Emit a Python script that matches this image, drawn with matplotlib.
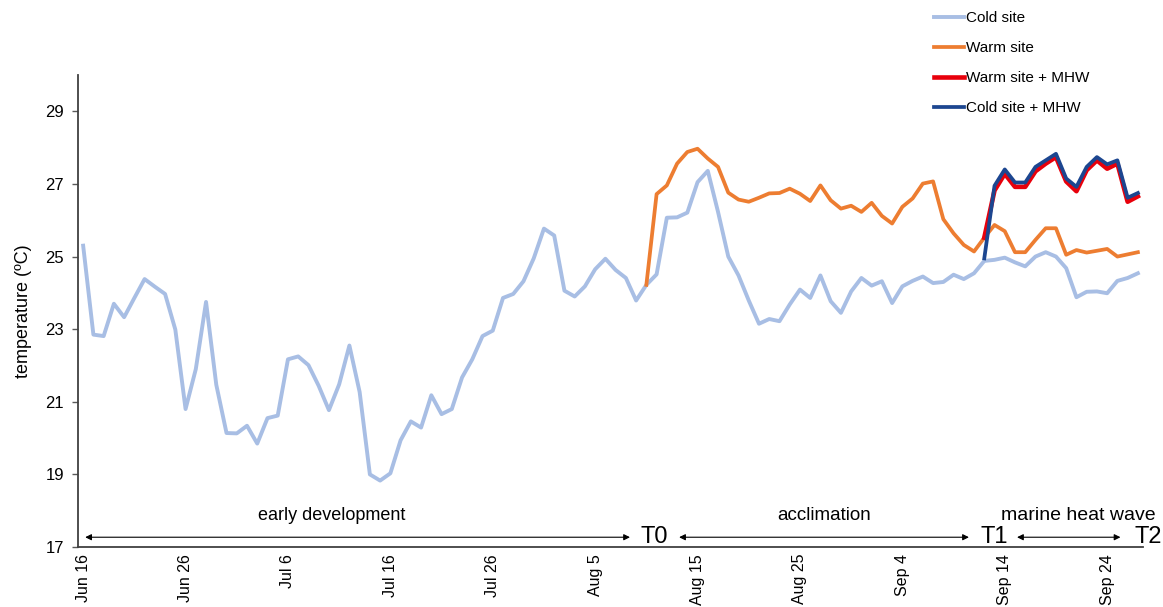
import numpy as np
import matplotlib
matplotlib.use("Agg")
import matplotlib.pyplot as plt

plt.rcParams["font.family"] = ["Liberation Sans", "DejaVu Sans"]

# -----------------------------------------------------------------------------
# DATA  (daily temperature, day 0 = Jun 16)
# -----------------------------------------------------------------------------

cold_site = [
    25.30, 22.85, 22.81, 23.70, 23.33, 23.86, 24.38, 24.17, 23.97, 22.99,
    20.80, 21.90, 23.75, 21.47, 20.14, 20.13, 20.34, 19.85, 20.55, 20.62,
    22.17, 22.25, 22.01, 21.44, 20.77, 21.48, 22.55, 21.27, 19.00, 18.83,
    19.03, 19.94, 20.46, 20.29, 21.18, 20.66, 20.80, 21.67, 22.17, 22.81,
    22.96, 23.86, 23.97, 24.32, 24.95, 25.77, 25.58, 24.06, 23.90, 24.18,
    24.65, 24.94, 24.63, 24.41, 23.79, 24.22, 24.51, 26.07, 26.08, 26.21,
    27.05, 27.36, 26.23, 25.00, 24.48, 23.79, 23.15, 23.28, 23.22, 23.68,
    24.09, 23.86, 24.48, 23.77, 23.45, 24.04, 24.41, 24.20, 24.32, 23.72,
    24.18, 24.33, 24.45, 24.27, 24.30, 24.50, 24.38, 24.54, 24.88, 24.91,
    24.97, 24.84, 24.73, 25.00, 25.12, 25.00, 24.68, 23.88, 24.03, 24.04,
    23.99, 24.33, 24.41, 24.54,
]

warm_start = 55
warm_site = [
    24.22, 26.72, 26.96, 27.56, 27.88, 27.97, 27.70, 27.47, 26.76, 26.57,
    26.51, 26.62, 26.74, 26.75, 26.87, 26.73, 26.53, 26.96, 26.55, 26.32,
    26.40, 26.23, 26.48, 26.12, 25.91, 26.37, 26.60, 27.01, 27.07, 26.03,
    25.64, 25.32, 25.14, 25.52, 25.87, 25.70, 25.12, 25.12, 25.46, 25.78,
    25.78, 25.05, 25.18, 25.11, 25.16, 25.21, 25.00, 25.06, 25.12,
]

mhw_start = 88
warm_mhw = [25.52, 26.82, 27.28, 26.92, 26.92, 27.35, 27.56, 27.74,
            27.07, 26.80, 27.38, 27.65, 27.42, 27.56, 26.51, 26.66]
cold_mhw = [24.95, 26.95, 27.40, 27.04, 27.04, 27.47, 27.65, 27.83,
            27.15, 26.92, 27.47, 27.74, 27.54, 27.65, 26.62, 26.75]

tick_days = [0, 10, 20, 30, 40, 50, 60, 70, 80, 90, 100]
tick_labels = ["Jun 16", "Jun 26", "Jul 6", "Jul 16", "Jul 26", "Aug 5",
               "Aug 15", "Aug 25", "Sep 4", "Sep 14", "Sep 24"]

# -----------------------------------------------------------------------------
# PLOT
# -----------------------------------------------------------------------------

fig = plt.figure(figsize=(11.63, 6.07), dpi=100)
ax = fig.add_axes([0.0671, 0.0988, 0.9157, 0.7776])

days = np.arange(len(cold_site))
warm_days = np.arange(warm_start, warm_start + len(warm_site))
mhw_days = np.arange(mhw_start, mhw_start + len(warm_mhw))

ax.plot(days, cold_site, color="#A8BEE4", lw=2.8, label="Cold site")
ax.plot(warm_days, warm_site, color="#ED7D31", lw=2.7, label="Warm site")
ax.plot(mhw_days, warm_mhw, color="#E8000B", lw=3.3, label="Warm site + MHW")
ax.plot(mhw_days, cold_mhw, color="#1C4690", lw=2.7, label="Cold site + MHW")

ax.set_xlim(-0.5, 103.5)
ax.set_ylim(17, 30)
ax.set_yticks(np.arange(17, 30, 2))
ax.set_xticks(tick_days)
ax.set_xticklabels(tick_labels, rotation=90, fontsize=11.5)
ax.tick_params(axis="x", length=0, pad=5)
ax.tick_params(axis="y", length=4, width=1, color="#595959", labelsize=12, pad=6)
ax.set_ylabel("temperature (ºC)", fontsize=13, labelpad=10)

for s in ["top", "right"]:
    ax.spines[s].set_visible(False)
for s in ["left", "bottom"]:
    ax.spines[s].set_color("#404040")
    ax.spines[s].set_linewidth(1.3)

# --- phase annotations ---
arrow_y = 17.27
text_y = 17.88
arrow_kw = dict(arrowstyle="<|-|>", color="black", lw=0.8,
                mutation_scale=9, shrinkA=0, shrinkB=0)
for x0, x1 in [(0.2, 53.4), (58.2, 86.5), (91.2, 101.3)]:
    ax.annotate("", xy=(x0, arrow_y), xytext=(x1, arrow_y),
                arrowprops=arrow_kw, annotation_clip=False)

ax.text(24.3, text_y, "early development", ha="center", va="center", fontsize=13)
ax.text(72.4, text_y, "acclimation", ha="center", va="center", fontsize=13.5)
ax.text(97.2, text_y, "marine heat wave", ha="center", va="center", fontsize=14,
        clip_on=False)
for x, lab in [(55.8, "T0"), (89.0, "T1"), (104.0, "T2")]:
    ax.text(x, arrow_y, lab, ha="center", va="center", fontsize=17, clip_on=False)

fig.legend(loc="upper left", bbox_to_anchor=(0.795, 0.997), frameon=False,
           fontsize=11, handlelength=2.0, handletextpad=0.1,
           labelspacing=1.05, borderaxespad=0.2)

fig.savefig("out.png", dpi=100)
